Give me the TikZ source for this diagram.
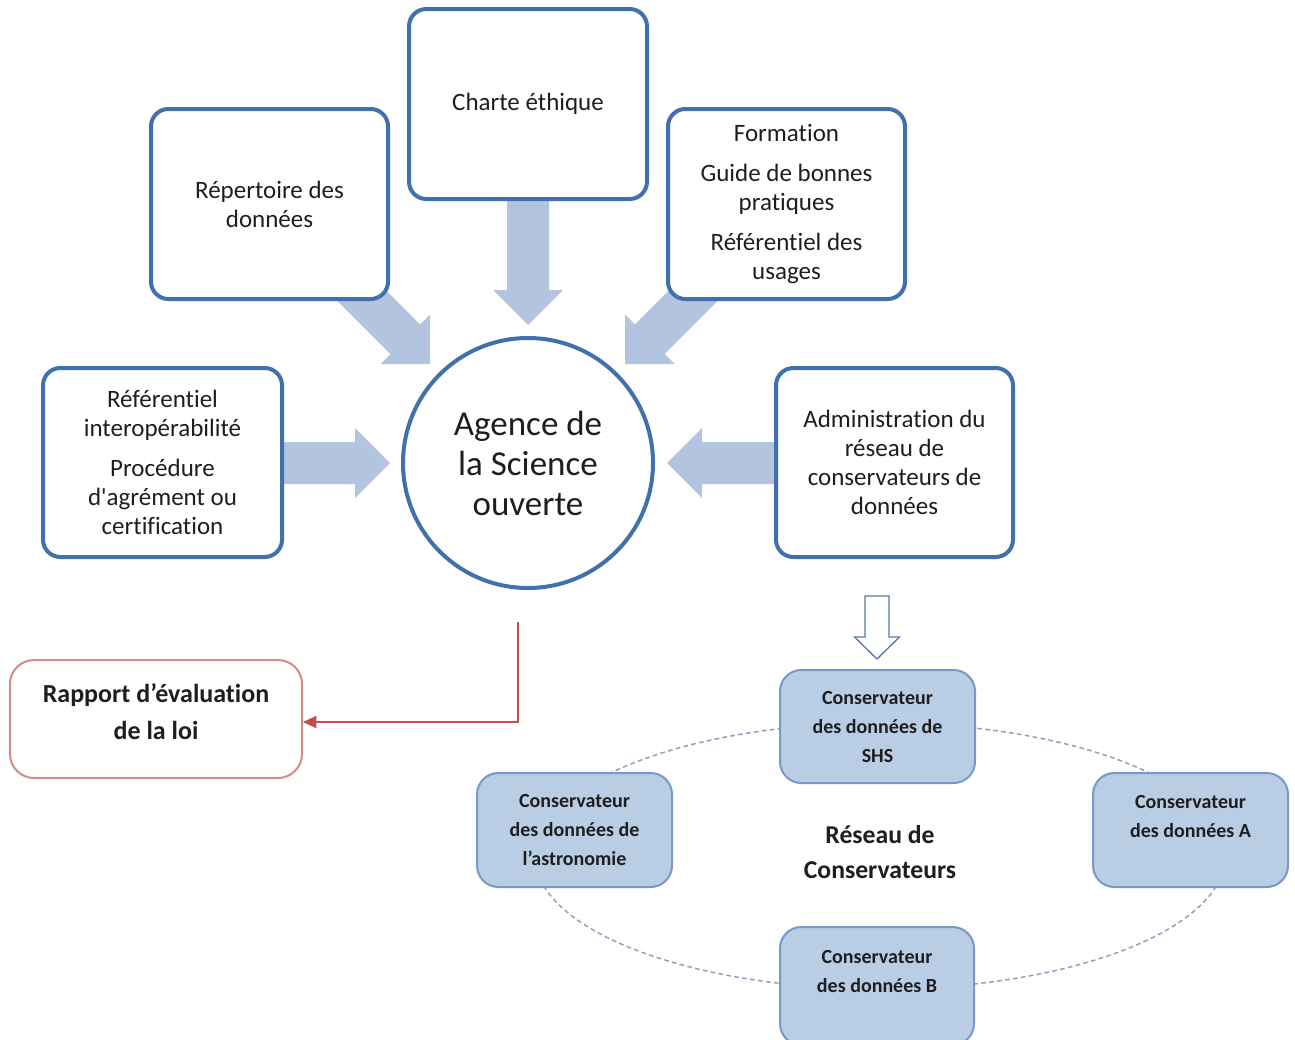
\documentclass[tikz,border=0pt]{standalone}
\usepackage{fontspec}
\defaultfontfeatures[\rmfamily]{}
\setmainfont{Carlito}[Ligatures={NoCommon}]
\usetikzlibrary{arrows.meta}
\definecolor{boxblue}{RGB}{65,113,173}
\definecolor{arrowfill}{RGB}{178,196,224}
\definecolor{consfill}{RGB}{185,205,229}
\definecolor{consline}{RGB}{120,152,198}
\definecolor{redline}{RGB}{192,80,77}
\definecolor{redbox}{RGB}{214,138,135}
\definecolor{dashcol}{RGB}{140,160,190}
\definecolor{txt}{RGB}{30,30,30}
\definecolor{hollowcol}{RGB}{90,120,165}
\newcommand\bigarr[3]{\fill[arrowfill, shift={#1}, rotate=#2] (0,0) -- (-35,35) -- (-35,21) -- (-#3,21) -- (-#3,-21) -- (-35,-21) -- (-35,-35) -- cycle;}
\begin{document}
\begin{tikzpicture}[x=0.75pt,y=-0.75pt,
 mainbox/.style={draw=boxblue, line width=3pt, fill=white, rounded corners=13pt, align=center, text=txt, font=\fontsize{18.75pt}{21.75pt}\selectfont, inner sep=0pt},
 consbox/.style={draw=consline, line width=1.5pt, fill=consfill, rounded corners=16pt, align=center, text=txt, font=\fontsize{15pt}{21.75pt}\selectfont\bfseries, inner sep=0pt, minimum width=146.25pt, minimum height=85.5pt},
]
\clip (0,0) rectangle (1295,1039);
\fill[white] (0,0) rectangle (1295,1039);

% block arrows
\bigarr{(528,325)}{-90}{130}
\bigarr{(430,364)}{-45}{120}
\bigarr{(625,364)}{-135}{120}
\bigarr{(390,463)}{0}{115}
\bigarr{(667,463)}{180}{115}

% boxes
\node[mainbox, minimum width=177.75pt, minimum height=142.5pt] (rep) at (269.5,204) {Répertoire des\\données};
\node[mainbox, minimum width=178.5pt, minimum height=142.5pt] (charte) at (528,104) {Charte éthique};
\node[mainbox, minimum width=177.75pt, minimum height=142.5pt] (form) at (786.5,204) {Formation\\[8pt]Guide de bonnes\\pratiques\\[8pt]Référentiel des\\usages};
\node[mainbox, minimum width=179.25pt, minimum height=141.75pt] (refi) at (162.5,462.5) {Référentiel\\interopérabilité\\[8pt]Procédure\\d'agrément ou\\certification};
\node[mainbox, minimum width=177.75pt, minimum height=141.75pt] (admin) at (894.5,462.5) {Administration du\\réseau de\\conservateurs de\\données};

\node[circle, draw=boxblue, line width=3pt, fill=white, minimum size=187.5pt, inner sep=0pt, align=center, font=\fontsize{26.25pt}{30pt}\selectfont, text=txt] (agence) at (528,463) {Agence de\\la Science\\ouverte};

% report
\node[draw=redbox, line width=1.5pt, rounded corners=18pt, minimum width=219pt, minimum height=88.5pt, align=center, font=\fontsize{19.5pt}{27.75pt}\selectfont\bfseries, text=txt, fill=white, text depth=11pt] (rapport) at (156,719) {Rapport d’évaluation\\de la loi};
\coordinate (redstart) at (518,622);
\draw[redline, line width=1.5pt, -{Triangle[length=10pt,width=9pt]}] (redstart) |- ([yshift=-2.25pt]rapport.east);

% network
\draw[dashcol, line width=1.1pt, dash pattern=on 3.5pt off 2.5pt] (880,856) ellipse [x radius=345, y radius=133];
\draw[hollowcol, fill=white, line width=1pt, shift={(877,659)}, rotate=-90] (0,0) -- (-22,22.5) -- (-22,12) -- (-63,12) -- (-63,-12) -- (-22,-12) -- (-22,-22.5) -- cycle;

\node[consbox, minimum height=84.75pt] (shs) at (877.5,726.5) {Conservateur\\des données de\\SHS};
\node[consbox] (astro) at (574.5,830) {Conservateur\\des données de\\l’astronomie};
\node[consbox, text depth=20pt] (consA) at (1190.5,830) {Conservateur\\des données A};
\node[consbox, minimum width=145.5pt, minimum height=88.5pt, text depth=22pt] (consB) at (877,986) {Conservateur\\des données B};
\node[font=\fontsize{19.25pt}{26.25pt}\selectfont\bfseries, align=center, text=txt] (reseau) at (880,852) {Réseau de\\Conservateurs};
\end{tikzpicture}
\end{document}
